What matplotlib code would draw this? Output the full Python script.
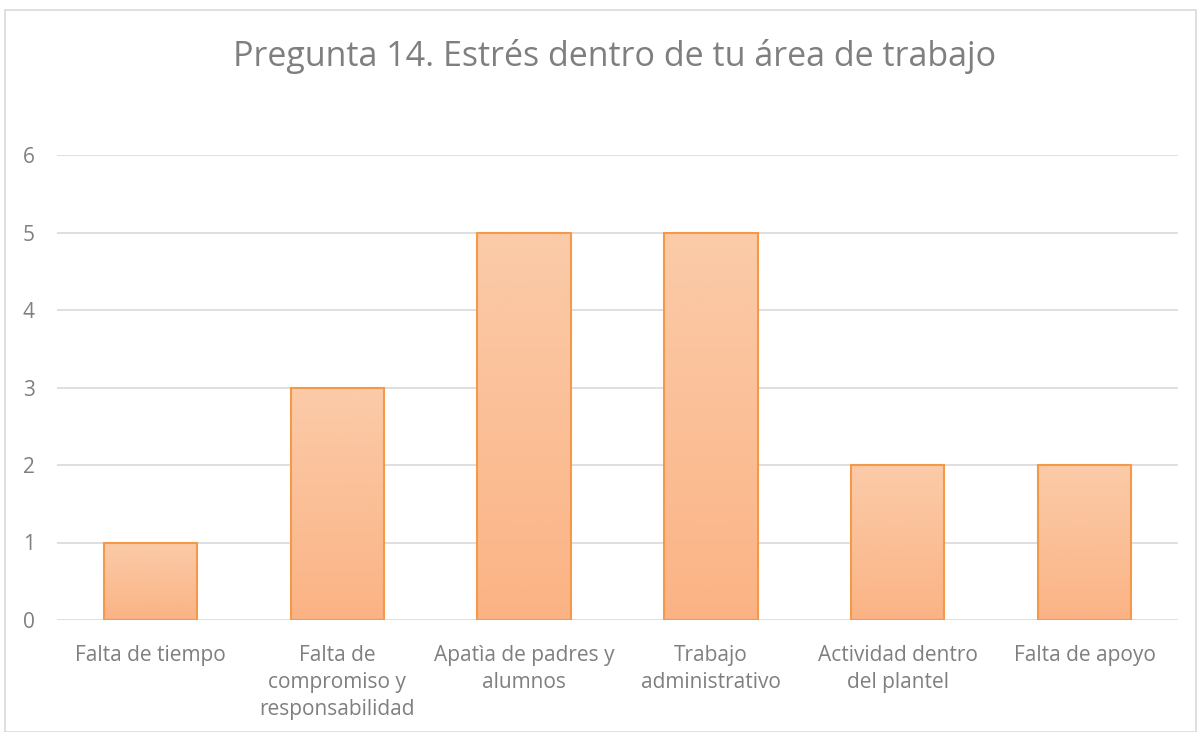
import matplotlib
matplotlib.use("Agg")
import matplotlib.pyplot as plt
import numpy as np
from matplotlib.colors import LinearSegmentedColormap
from matplotlib.patches import Rectangle

categories = ["Falta de tiempo", "Falta de\ncompromiso y\nresponsabilidad",
              "Apatìa de padres y\nalumnos", "Trabajo\nadministrativo",
              "Actividad dentro\ndel plantel", "Falta de apoyo"]
values = [1, 3, 5, 5, 2, 2]
yticks = [0, 1, 2, 3, 4, 5, 6]
title = "Pregunta 14. Estrés dentro de tu área de trabajo"

plt.rcParams['font.family'] = ['Open Sans', 'DejaVu Sans']
W, H = 1202, 732
fig = plt.figure(figsize=(W/100, H/100), dpi=100)
fig.patch.set_facecolor('white')

# chart border
fig.add_artist(Rectangle((5/W, 0), (1196-5)/W, (H-10)/H, transform=fig.transFigure,
                         fill=False, edgecolor='#D9D9D9', linewidth=1.2))

left, right, top, bottom = 57, 1178, 155, 620
ax = fig.add_axes([left/W, 1-bottom/H, (right-left)/W, (bottom-top)/H])
ax.set_xlim(-0.5, len(categories)-0.5)
ax.set_ylim(0, 6)
for s in ax.spines.values():
    s.set_visible(False)
ax.set_yticks(yticks)
ax.grid(axis='y', color='#D9D9D9', linewidth=1.2)
ax.set_axisbelow(True)
ax.tick_params(axis='both', length=0, labelsize=15, colors='#7F7F7F')
ax.tick_params(axis='y', pad=16)
ax.tick_params(axis='x', pad=18)
ax.set_xticks(range(len(categories)))
ax.set_xticklabels(categories, linespacing=1.37, va='top')

cmap = LinearSegmentedColormap.from_list('g', ['#FBB384', '#FBCBA9'])
grad = np.linspace(0, 1, 256).reshape(-1, 1)
bars = ax.bar(range(len(categories)), values, width=0.5, color='none',
              edgecolor='#F4994A', linewidth=1.5, zorder=3)
for b in bars:
    x0, y0 = b.get_x(), b.get_y()
    im = ax.imshow(grad, cmap=cmap, origin='lower', aspect='auto',
                   extent=[x0, x0 + b.get_width(), y0, y0 + b.get_height()], zorder=2)
    im.set_clip_path(b)
ax.set_xlim(-0.5, len(categories)-0.5)
ax.set_ylim(0, 6)

fig.text(615/W, 1-57/H, title, ha='center', va='center', fontsize=24.5, color='#7F7F7F')

fig.savefig('out.png', dpi=100)
